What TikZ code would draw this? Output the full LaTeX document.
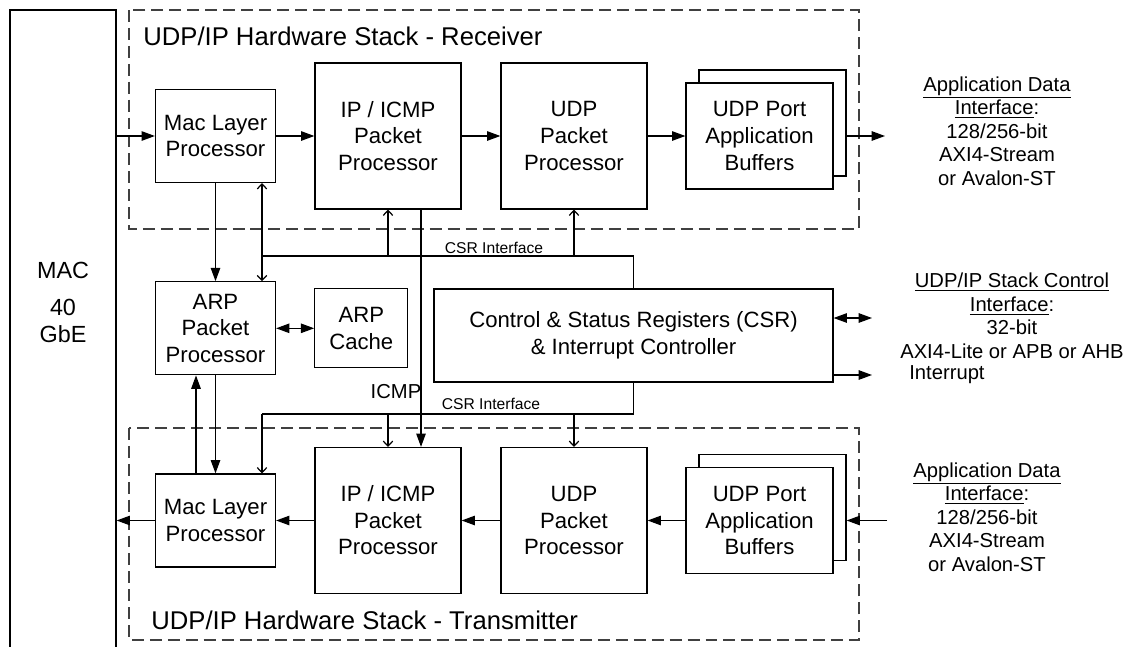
\documentclass[tikz,border=0pt]{standalone}
\usepackage{fontspec}
\setmainfont{Liberation Sans}
\usetikzlibrary{arrows.meta, positioning}
\newcommand{\blkfont}{\fontsize{12.6}{15.1}\selectfont}
\newcommand{\sidefont}{\fontsize{11.5}{13.4}\selectfont}
\newcommand{\smallfont}{\fontsize{8.9}{10}\selectfont}
\newcommand{\titlefont}{\fontsize{14.6}{17}\selectfont}
\tikzset{
  blk/.style={draw, fill=white, line width=0.7pt, inner sep=0pt, align=center, font=\blkfont},
  smallblk/.style={blk, minimum width=2.4cm, minimum height=1.86cm},
  bigblk/.style={blk, minimum width=2.92cm, minimum height=2.92cm},
  bufblk/.style={blk, minimum width=2.94cm, minimum height=2.12cm},
  dashbox/.style={draw=black!75, line width=0.7pt, dash pattern=on 6.8pt off 3.4pt},
  flow/.style={line width=0.7pt, -{Triangle[length=7.6pt,width=5.4pt]}},
  bothflow/.style={line width=0.7pt, {Triangle[length=7.6pt,width=5.4pt]}-{Triangle[length=7.6pt,width=5.4pt]}},
  csrlink/.style={line width=0.7pt, -{Straight Barb[length=2.8pt,width=5.4pt]}},
  sidetxt/.style={align=center, font=\sidefont, inner sep=0pt},
}
\begin{document}
\begin{tikzpicture}[x=0.02cm, y=-0.02cm]
        \useasboundingbox (0,0) rectangle (1136,646);
        \clip (0,0) rectangle (1136,646);
        % Bloque MAC a la izquierda
        \node[draw, line width=0.7pt, minimum width=2.12cm, minimum height=13.8cm, inner sep=0pt] (mac) at (63,355) {};
        \node[font=\fontsize{13.3}{15.1}\selectfont, align=center] (mactxt) at (63,302) {MAC\\[0.22cm]40\\GbE};
        % Zonas discontinuas
        \draw[dashbox] (129,10) rectangle (859,229);
        \draw[dashbox] (129,428) rectangle (859,640);
        \node[anchor=west, font=\titlefont, inner sep=0pt] (rxtitle) at (143,36) {UDP/IP Hardware Stack - Receiver};
        \node[anchor=west, font=\titlefont, inner sep=0pt] (txtitle) at (151,620) {UDP/IP Hardware Stack - Transmitter};
        % Bloques de recepción
        \node[smallblk] (rxmac) at (215.5,136) {Mac Layer\\Processor};
        \node[bigblk] (rxip) at (388,136) {IP / ICMP\\Packet\\Processor};
        \node[bigblk] (rxudp) at (574,136) {UDP\\Packet\\Processor};
        \node[bufblk] (rxbufb) at (772.5,123) {};
        \node[bufblk] (rxbuf) at (759.5,136) {UDP Port\\Application\\Buffers};
        % Bloques centrales
        \node[smallblk] (arp) at (215.5,328.3) {ARP\\Packet\\Processor};
        \node[blk, minimum width=1.86cm, minimum height=1.58cm] (cache) at (361.3,328.3) {ARP\\Cache};
        \node[blk, minimum width=7.98cm, minimum height=1.86cm] (csr) at (633.5,335.5) {Control \& Status Registers (CSR)\\\& Interrupt Controller};
        % Bloques de transmisión
        \node[smallblk] (txmac) at (215.5,520.5) {Mac Layer\\Processor};
        \node[bigblk] (txip) at (388,520.5) {IP / ICMP\\Packet\\Processor};
        \node[bigblk] (txudp) at (574,520.5) {UDP\\Packet\\Processor};
        \node[bufblk] (txbufb) at (772.5,507.5) {};
        \node[bufblk] (txbuf) at (759.5,520.5) {UDP Port\\Application\\Buffers};
        % Textos de las interfaces
        \node[sidetxt] (rxapp) at (997,131) {\underline{Application Data}\\\underline{Interface}:\\128/256-bit\\AXI4-Stream\\or Avalon-ST};
        \node[sidetxt] (ctltxt) at (1012,316) {\underline{UDP/IP Stack Control}\\\underline{Interface}:\\32-bit\\AXI4-Lite or APB or AHB};
        \node[sidetxt, anchor=west] (irqtxt) at (909,375) {Interrupt};
        \node[sidetxt] (txapp) at (987,517) {\underline{Application Data}\\\underline{Interface}:\\128/256-bit\\AXI4-Stream\\or Avalon-ST};
        \node[font=\smallfont, inner sep=0pt] (csrlbla) at (494,248) {CSR Interface};
        \node[font=\smallfont, inner sep=0pt] (csrlblb) at (491,404) {CSR Interface};
        \node[font=\sidefont, inner sep=0pt] (icmplbl) at (396,392) {ICMP};
        % Flujo de recepción
        \coordinate (rxout) at (885,136);
        \draw[flow] (mac.east |- rxmac) -- (rxmac);
        \foreach \a/\b in {rxmac/rxip, rxip/rxudp, rxudp/rxbuf} {
            \draw[flow] (\a) -- (\b);
        }
        \draw[flow] (rxbufb.east |- rxbuf) -- (rxout);
        % Flujo de transmisión
        \coordinate (txin) at (887,520.5);
        \draw[flow] (txin) -- (txbufb.east |- txbuf);
        \foreach \a/\b in {txbuf/txudp, txudp/txip, txip/txmac} {
            \draw[flow] (\a) -- (\b);
        }
        \draw[flow] (txmac) -- (mac.east |- txmac);
        % ARP
        \coordinate (arpup) at (196,420);
        \draw[flow] (rxmac) -- (arp);
        \draw[flow] (arp) -- (txmac);
        \draw[flow] (txmac.north -| arpup) -- (arp.south -| arpup);
        \draw[bothflow] (arp) -- (cache);
        % ICMP
        \coordinate (icmp) at (421,300);
        \draw[flow] (rxip.south -| icmp) -- (txip.north -| icmp);
        % Interfaz CSR
        \coordinate (busa) at (262,256);
        \coordinate (busb) at (262,414);
        \draw[line width=0.7pt] (csr.north) |- (busa);
        \draw[csrlink] (busa) -- (rxmac.south -| busa);
        \draw[csrlink] (busa) -- (arp.north -| busa);
        \foreach \n in {rxip, rxudp} {
            \draw[csrlink] (\n.south |- busa) -- (\n.south);
        }
        \draw[line width=0.7pt] (csr.south) |- (busb);
        \draw[csrlink] (busb) -- (txmac.north -| busb);
        \foreach \n in {txip, txudp} {
            \draw[csrlink] (\n.north |- busb) -- (\n.north);
        }
        % Salidas de control
        \coordinate (ctl) at (872,318);
        \coordinate (irq) at (872,375);
        \draw[bothflow] (csr.east |- ctl) -- (ctl);
        \draw[flow] (csr.east |- irq) -- (irq);
    \end{tikzpicture}
\end{document}
